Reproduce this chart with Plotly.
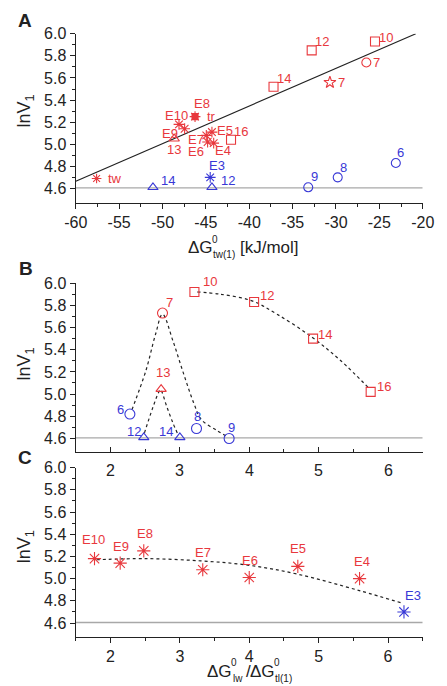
import plotly.graph_objects as go

W, H = 447, 686          # browser window
PAGE_MARGIN = 8          # default body margin of the html page
FW, FH = W - PAGE_MARGIN, H - PAGE_MARGIN
RED = "#e8383d"
BLUE = "#3838d6"
GRAY = "#a8a8a8"
AX = "#222222"
FONT = "Liberation Sans, Arial, sans-serif"

# ---------------- Panel A data ----------------
a_sq_x = [-25.5, -32.8, -37.2, -42.1]
a_sq_y = [5.93, 5.85, 5.52, 5.04]
a_sq_lab = ["10", "12", "14", "16"]
a_ci_red_x = [-26.5]
a_ci_red_y = [5.74]
a_ci_red_lab = ["7"]
a_star_x = [-30.7]
a_star_y = [5.56]
a_star_lab = ["7"]
a_tri_red_x = [-48.65]
a_tri_red_y = [5.05]
a_tri_red_lab = ["13"]
a_e_x = [-48.1, -47.45, -46.25, -44.95, -44.8, -44.3, -44.1]
a_e_y = [5.18, 5.14, 5.25, 5.08, 5.02, 5.11, 5.01]
a_e_lab = ["E10", "E9", "E8", "E7", "E6", "E5", "E4"]
a_tw_x = [-57.6]
a_tw_y = [4.69]
a_tw_lab = ["tw"]
a_tr_x = [-46.25]
a_tr_y = [5.25]
a_tr_lab = ["tr"]
a_tri_blue_x = [-51.1, -44.3]
a_tri_blue_y = [4.61, 4.61]
a_tri_blue_lab = ["14", "12"]
a_ci_blue_x = [-33.2, -29.8, -23.1]
a_ci_blue_y = [4.61, 4.70, 4.83]
a_ci_blue_lab = ["9", "8", "6"]
a_e3_x = [-44.5]
a_e3_y = [4.70]
a_e3_lab = ["E3"]
a_fit_x = [-60, -20.8]
a_fit_y = [4.665, 6.0]

# ---------------- Panel B data ----------------
b_sq_x = [3.21, 4.07, 4.92, 5.75]
b_sq_y = [5.92, 5.83, 5.50, 5.02]
b_sq_lab = ["10", "12", "14", "16"]
b_ci_red_x = [2.75]
b_ci_red_y = [5.73]
b_ci_red_lab = ["7"]
b_tri_red_x = [2.73]
b_tri_red_y = [5.045]
b_tri_red_lab = ["13"]
b_ci_blue_x = [2.28, 3.24, 3.71]
b_ci_blue_y = [4.82, 4.69, 4.60]
b_ci_blue_lab = ["6", "8", "9"]
b_tri_blue_x = [2.48, 3.00]
b_tri_blue_y = [4.61, 4.61]
b_tri_blue_lab = ["12", "14"]
b_curve_ci_x = [2.31, 2.51, 2.65, 2.75, 2.90, 3.04, 3.20, 3.31, 3.54, 3.70]
b_curve_ci_y = [4.86, 5.21, 5.54, 5.72, 5.48, 5.21, 4.92, 4.77, 4.67, 4.61]
b_curve_tri_x = [2.49, 2.60, 2.69, 2.72, 2.81, 2.90, 2.97]
b_curve_tri_y = [4.65, 4.86, 5.01, 5.04, 4.89, 4.74, 4.64]
b_curve_sq_x = [3.25, 3.58, 4.04, 4.40, 4.91, 5.32, 5.73]
b_curve_sq_y = [5.92, 5.90, 5.84, 5.72, 5.51, 5.30, 5.05]

# ---------------- Panel C data ----------------
c_e_x = [1.77, 2.14, 2.48, 3.33, 4.00, 4.70, 5.59]
c_e_y = [5.18, 5.14, 5.25, 5.08, 5.01, 5.11, 5.00]
c_e_lab = ["E10", "E9", "E8", "E7", "E6", "E5", "E4"]
c_e3_x = [6.23]
c_e3_y = [4.70]
c_e3_lab = ["E3"]
c_curve_x = [1.8, 2.5, 3.3, 4.0, 4.7, 5.6, 6.2]
c_curve_y = [5.17, 5.18, 5.16, 5.12, 5.04, 4.89, 4.78]

ref_level = 4.605

# tick labels
a_xticks = [-60, -55, -50, -45, -40, -35, -30, -25, -20]
a_xticktext = ["-60", "-55", "-50", "-45", "-40", "-35", "-30", "-25", "-20"]
a_xminor = [-57.5, -52.5, -47.5, -42.5, -37.5, -32.5, -27.5, -22.5]
r_xticks = [2, 3, 4, 5, 6]
r_xticktext = ["2", "3", "4", "5", "6"]
r_xminor = [1.5, 2.5, 3.5, 4.5, 5.5, 6.5]
yticks = [4.6, 4.8, 5.0, 5.2, 5.4, 5.6, 5.8, 6.0]
yticktext = ["4.6", "4.8", "5.0", "5.2", "5.4", "5.6", "5.8", "6.0"]
yminor = [4.7, 4.9, 5.1, 5.3, 5.5, 5.7, 5.9]

# label offsets in pixels (dx right, dy down) -- styling only
OFF = {
    "a_sq": [(11, -4), (10, -9), (10, -8), (10, -8)],
    "a_ci_red": [(10, 0)],
    "a_star": [(12, 0)],
    "a_tri_red": [(0, 11)],
    "a_e": [(-2, -9), (-15, 5), (7, -13), (-10, 4), (-12, 9), (13, -2), (9, 7)],
    "a_tw": [(18, 0)],
    "a_tr": [(16, 0)],
    "a_tri_blue": [(15, -7), (16, -7)],
    "a_ci_blue": [(6, -11), (6, -10), (5, -11)],
    "a_e3": [(7, -12)],
    "b_sq": [(16, -10), (13, -6), (12, -4), (13, -5)],
    "b_ci_red": [(7, -11)],
    "b_tri_red": [(2, -17)],
    "b_ci_blue": [(-9, -5), (1, -12), (2, -11)],
    "b_tri_blue": [(-10, -6), (-14, -6)],
    "c_e": [(-1, -19), (1, -17), (1, -17), (0, -17), (1, -17), (0, -18), (2, -17)],
    "c_e3": [(9, -16)],
}

fig = go.Figure()


def pts(xs, ys, labs, key, symbol, color, size, ax):
    xa = "x" if ax == 1 else "x%d" % ax
    ya = "y" if ax == 1 else "y%d" % ax
    fig.add_trace(go.Scatter(
        x=xs, y=ys, mode="markers", xaxis=xa, yaxis=ya, cliponaxis=False,
        marker=dict(symbol=symbol, size=size, color=color,
                    line=dict(color=color, width=1.1)),
        showlegend=False, hoverinfo="skip"))
    for x, y, l, (dx, dy) in zip(xs, ys, labs, OFF[key]):
        fig.add_annotation(x=x, y=y, xref=xa, yref=ya, text=l, showarrow=False,
                           xanchor="center", yanchor="middle",
                           xshift=dx, yshift=-dy,
                           font=dict(size=13, color=color, family=FONT))


def line(xs, ys, ax, dash, color=AX, width=1.2, shape="linear"):
    xa = "x" if ax == 1 else "x%d" % ax
    ya = "y" if ax == 1 else "y%d" % ax
    fig.add_trace(go.Scatter(x=xs, y=ys, mode="lines", xaxis=xa, yaxis=ya,
                             line=dict(color=color, width=width, dash=dash, shape=shape),
                             showlegend=False, hoverinfo="skip"))


# reference lines
for ax, rng in [(1, [-60, -20]), (2, [1.5, 6.5]), (3, [1.5, 6.5])]:
    line(rng, [ref_level, ref_level], ax, "solid", GRAY, 1.3)

# Panel A
line(a_fit_x, a_fit_y, 1, "solid", AX, 1.2)
pts(a_sq_x, a_sq_y, a_sq_lab, "a_sq", "square-open", RED, 9, 1)
pts(a_ci_red_x, a_ci_red_y, a_ci_red_lab, "a_ci_red", "circle-open", RED, 9, 1)
pts(a_star_x, a_star_y, a_star_lab, "a_star", "star-open", RED, 9, 1)
pts(a_tri_red_x, a_tri_red_y, a_tri_red_lab, "a_tri_red", "triangle-up-open", RED, 9, 1)
pts(a_e_x, a_e_y, a_e_lab, "a_e", "asterisk-open", RED, 9, 1)
pts(a_tw_x, a_tw_y, a_tw_lab, "a_tw", "asterisk-open", RED, 8, 1)
pts(a_tr_x, a_tr_y, a_tr_lab, "a_tr", "square", RED, 6, 1)
pts(a_tri_blue_x, a_tri_blue_y, a_tri_blue_lab, "a_tri_blue", "triangle-up-open", BLUE, 9, 1)
pts(a_ci_blue_x, a_ci_blue_y, a_ci_blue_lab, "a_ci_blue", "circle-open", BLUE, 9, 1)
pts(a_e3_x, a_e3_y, a_e3_lab, "a_e3", "asterisk-open", BLUE, 9, 1)

# Panel B
line(b_curve_ci_x, b_curve_ci_y, 2, "dot", AX, 1.2, "spline")
line(b_curve_tri_x, b_curve_tri_y, 2, "dot", AX, 1.2, "spline")
line(b_curve_sq_x, b_curve_sq_y, 2, "dot", AX, 1.2, "spline")
pts(b_sq_x, b_sq_y, b_sq_lab, "b_sq", "square-open", RED, 9, 2)
pts(b_ci_red_x, b_ci_red_y, b_ci_red_lab, "b_ci_red", "circle-open", RED, 10, 2)
pts(b_tri_red_x, b_tri_red_y, b_tri_red_lab, "b_tri_red", "triangle-up-open", RED, 9, 2)
pts(b_ci_blue_x, b_ci_blue_y, b_ci_blue_lab, "b_ci_blue", "circle-open", BLUE, 10, 2)
pts(b_tri_blue_x, b_tri_blue_y, b_tri_blue_lab, "b_tri_blue", "triangle-up-open", BLUE, 9, 2)

# Panel C
line(c_curve_x, c_curve_y, 3, "dot", AX, 1.2, "spline")
pts(c_e_x, c_e_y, c_e_lab, "c_e", "asterisk-open", RED, 11, 3)
pts(c_e3_x, c_e3_y, c_e3_lab, "c_e3", "asterisk-open", BLUE, 11, 3)


# window pixel -> paper coordinates of the figure (figure sits at the body margin)
def px_x(p):
    return (p - PAGE_MARGIN) / FW


def px_y(p):
    return 1 - (p - PAGE_MARGIN) / FH


XDOM = [px_x(67), px_x(434)]
tickfont = dict(size=16, color=AX, family=FONT)


def xaxis(rng, tv, tt, mv, anchor, ticks="outside", labels=True):
    return dict(domain=XDOM, range=rng, anchor=anchor, showline=True, linecolor=AX,
                linewidth=1.4, showgrid=False, zeroline=False,
                tickmode="array", tickvals=tv, ticktext=tt, ticks=ticks, ticklen=5,
                tickwidth=1.3, tickcolor=AX, tickfont=tickfont, showticklabels=labels,
                minor=dict(tickmode="array", tickvals=mv, ticks=ticks, ticklen=3,
                           tickwidth=1.2, tickcolor=AX, showgrid=False))


def yaxis(dom_px, rng, anchor):
    return dict(domain=[px_y(dom_px[1]), px_y(dom_px[0])], range=rng, anchor=anchor,
                showline=True, linecolor=AX, linewidth=1.4, showgrid=False,
                zeroline=False, tickmode="array", tickvals=yticks, ticktext=yticktext,
                ticks="outside", ticklen=5, tickwidth=1.3, tickcolor=AX,
                tickfont=tickfont,
                minor=dict(tickmode="array", tickvals=yminor, ticks="outside",
                           ticklen=3, tickwidth=1.2, tickcolor=AX, showgrid=False))


fig.update_layout(
    width=FW, height=FH, margin=dict(l=0, r=0, t=0, b=0),
    paper_bgcolor="white", plot_bgcolor="white",
    font=dict(family=FONT, color=AX),
    xaxis=xaxis([-60, -20], a_xticks, a_xticktext, a_xminor, "y"),
    yaxis=yaxis([26, 197], [4.47, 6.0], "x"),
    xaxis2=xaxis([1.5, 6.5], r_xticks, r_xticktext, r_xminor, "y2", "inside", False),
    yaxis2=yaxis([278.3, 449], [4.48, 6.0], "x2"),
    xaxis3=xaxis([1.5, 6.5], r_xticks, r_xticktext, r_xminor, "y3"),
    yaxis3=yaxis([465, 636], [4.478, 6.0], "x3"),
)

# tick labels of panel B's x axis (drawn below its inside ticks, over panel C's top)
for tv, tt in zip(r_xticks, r_xticktext):
    fig.add_annotation(x=tv, y=px_y(468), xref="x2", yref="paper", text=tt,
                       showarrow=False, xanchor="center", yanchor="middle",
                       font=tickfont)


def text_at(xp, yp, txt, size, angle=0):
    fig.add_annotation(x=px_x(xp), y=px_y(yp), xref="paper", yref="paper",
                       text=txt, showarrow=False, xanchor="center", yanchor="middle",
                       textangle=angle, font=dict(size=size, color=AX, family=FONT))


# panel letters
for letter, xp, yp in [("A", 13, 13), ("B", 14, 264), ("C", 13, 455)]:
    text_at(xp, yp, "<b>%s</b>" % letter, 19)

# y titles
for yp in [104, 360, 545]:
    text_at(14, yp, "lnV<sub>1</sub>", 18, -90)

# x title of panel A: ΔG (sup 0, sub tw(1)) [kJ/mol]
text_at(199, 242, "ΔG", 17)
text_at(214.5, 234, "0", 10)
text_at(223.5, 249.5, "tw(1)", 10)
text_at(272, 242, "[kJ/mol]", 17)

# x title of panel C: ΔG0_lw / ΔG0_tl(1)
text_at(219, 671, "ΔG", 17)
text_at(234.5, 662, "0", 10)
text_at(238.5, 678, "lw", 10)
text_at(249.5, 671, "/", 17)
text_at(264, 671, "ΔG", 17)
text_at(279.5, 662, "0", 10)
text_at(286.5, 678, "tl(1)", 10)

fig.write_html("out.html")
